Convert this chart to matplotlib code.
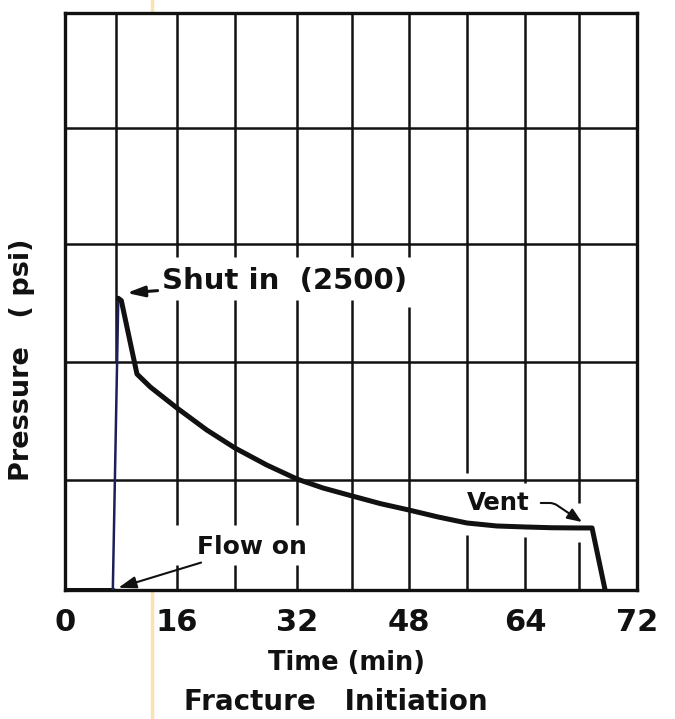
import numpy as np
import matplotlib
matplotlib.use("Agg")
import matplotlib.pyplot as plt
from matplotlib.lines import Line2D

# 数据（时间: 分钟, 压力: psi）
flat_time = [0.0, 7.5]
flat_psi = [0, 0]
rise_time = [7.5, 8.3]
rise_psi = [0, 2540]
decay_time = [8.3, 8.7, 10.75, 12.5, 16.0, 20.1, 24.0, 28.1, 32.0, 35.8,
              40.0, 44.0, 48.0, 52.0, 56.0, 60.1, 64.0, 66.0, 68.0, 68.9, 69.8]
decay_psi = [2540, 2520, 1898, 1788, 1610, 1424, 1271, 1127, 1008, 927,
             855, 785, 727, 664, 609, 582, 573, 566, 564, 564, 0]

tick_values = [0, 16, 32, 48, 64, 72]
tick_labels = ["0", "16", "32", "48", "64", "72"]
grid_minutes = [8, 16, 24, 32, 40, 48, 56, 64, 68]
grid_psi = [1000, 2000, 3000, 4000]

# 手绘网格的实际间距（像素），用于非均匀坐标
x_knots_min = [0, 8, 16, 24, 32, 40, 48, 56, 64, 68, 72]
x_knots_px = [0, 51, 112, 170, 232, 287, 344, 402, 460, 514, 572]
y_knots_psi = [0, 1000, 2000, 3000, 4000, 5000]
y_knots_px = [0, 110, 228, 346, 462, 577]

# 网格线被文字遮挡的空白段 (psi)
grid_gaps = {
    16: [(227, 591), (2525, 2890)],
    24: [(227, 591), (2525, 2890)],
    32: [(227, 591), (2525, 2890)],
    40: [(2525, 2890)],
    48: [(2466, 2890)],
    56: [(500, 1060)],
    64: [(482, 973)],
    68: [(436, 791)],
}

BLACK = "#111111"
NAVY = "#1c1f5a"
FONT = dict(family="DejaVu Sans", fontweight="bold", color=BLACK)


def make_interp(xk, yk):
    xk = np.asarray(xk, dtype=float)
    yk = np.asarray(yk, dtype=float)

    def f(v):
        v = np.asarray(v, dtype=float)
        out = np.interp(v, xk, yk)
        lo = v < xk[0]
        hi = v > xk[-1]
        out = np.where(lo, yk[0] + (v - xk[0]) * (yk[1] - yk[0]) / (xk[1] - xk[0]), out)
        out = np.where(hi, yk[-1] + (v - xk[-1]) * (yk[-1] - yk[-2]) / (xk[-1] - xk[-2]), out)
        return out
    return f


fig = plt.figure(figsize=(6.75, 7.19), dpi=100)
ax = fig.add_axes([65 / 675, 1 - 590 / 719, 572 / 675, 577 / 719])
ax.set_xscale("function", functions=(make_interp(x_knots_min, x_knots_px),
                                     make_interp(x_knots_px, x_knots_min)))
ax.set_yscale("function", functions=(make_interp(y_knots_psi, y_knots_px),
                                     make_interp(y_knots_px, y_knots_psi)))
ax.set_xlim(0, 72)
ax.set_ylim(0, 5000)

# 网格
for m in grid_minutes:
    if m == 8:
        segs = [(2000, 5000)]
    else:
        segs = []
        start = 0
        for g0, g1 in sorted(grid_gaps.get(m, [])):
            segs.append((start, g0))
            start = g1
        segs.append((start, 5000))
    for y0, y1 in segs:
        ax.plot([m, m], [y0, y1], color=BLACK, lw=1.8, solid_capstyle="butt", zorder=1)
for p in grid_psi:
    ax.plot([0, 72], [p, p], color=BLACK, lw=1.8, zorder=1)

# 曲线
ax.plot(flat_time, flat_psi, color=BLACK, lw=3.6, solid_capstyle="round", zorder=3)
ax.plot(rise_time, rise_psi, color=NAVY, lw=1.8, zorder=3)
ax.plot(decay_time, decay_psi, color=BLACK, lw=3.6, solid_joinstyle="round",
        solid_capstyle="round", zorder=3)

# 标注
ax.annotate("Shut in  (2500)", xy=(9.4, 2585), xytext=(14.0, 2686),
            fontsize=21, va="center", ha="left", **FONT,
            arrowprops=dict(arrowstyle="-|>,head_length=0.5,head_width=0.15",
                            color=BLACK, lw=2.2, shrinkA=1, shrinkB=0))
ax.annotate("Flow on", xy=(8.3, 20), xytext=(18.8, 391),
            fontsize=18, va="center", ha="left", **FONT,
            arrowprops=dict(arrowstyle="-|>,head_length=0.6,head_width=0.2",
                            color=BLACK, lw=1.5, shrinkA=2, shrinkB=0))
ax.annotate("Vent", xy=(68.2, 618), xytext=(56.0, 791),
            fontsize=17.5, va="center", ha="left", **FONT,
            arrowprops=dict(arrowstyle="-|>,head_length=0.5,head_width=0.2",
                            connectionstyle="angle,angleA=0,angleB=-34,rad=4",
                            color=BLACK, lw=1.5, shrinkA=6, shrinkB=0))

ax.set_xticks(tick_values)
ax.set_xticklabels(tick_labels)
ax.set_yticks([])
ax.tick_params(axis="x", length=0, pad=13, labelsize=22)
for lab in ax.get_xticklabels():
    lab.set_fontweight("bold")
    lab.set_color(BLACK)
ax.minorticks_off()
ax.tick_params(axis="both", which="minor", length=0)
for s in ax.spines.values():
    s.set_linewidth(2.4)
    s.set_color(BLACK)

fig.text(346 / 675, 1 - 663 / 719, "Time (min)", ha="center", va="center",
         fontsize=18.5, **FONT)
fig.text(336 / 675, 1 - 702 / 719, "Fracture   Initiation", ha="center", va="center",
         fontsize=20, **FONT)
fig.text(22 / 675, 1 - 360 / 719, "Pressure   ( psi)", ha="center", va="center",
         rotation=90, fontsize=19.5, **FONT)

# 扫描痕迹（黄色竖线）
fig.add_artist(Line2D([152 / 675, 152 / 675], [0, 1], transform=fig.transFigure,
                      color="#fbe2b0", lw=2.5, zorder=0))

fig.savefig("out.png", dpi=100)
